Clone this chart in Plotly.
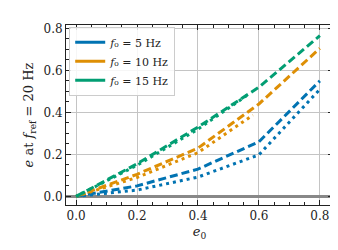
import plotly.graph_objects as go

# Data
e0_full = [0.0, 0.2, 0.4, 0.6, 0.8]

blue_dashed = [0.0, 0.05, 0.13, 0.26, 0.55]
blue_dotted = [0.0, 0.03, 0.092, 0.198, 0.51]

orange_dashed = [0.0, 0.105, 0.23, 0.44, 0.705]
orange_dotted_x = [0.0, 0.2, 0.4, 0.58]
orange_dotted = [0.0, 0.09, 0.208, 0.387]

green_dashed = [0.0, 0.155, 0.33, 0.52, 0.765]
green_dotted_x = [0.0, 0.2, 0.4, 0.56]
green_dotted = [0.0, 0.148, 0.32, 0.48]

labels = ["5", "10", "15"]
colors = ["#0173B2", "#DE8F05", "#029E73"]

x_ticks = [0.0, 0.2, 0.4, 0.6, 0.8]
x_ticktext = ["0.0", "0.2", "0.4", "0.6", "0.8"]
y_ticks = [0.0, 0.2, 0.4, 0.6, 0.8]
y_ticktext = ["0.0", "0.2", "0.4", "0.6", "0.8"]

FONT = "DejaVu Serif"
DASH = "8px,4px"
DOT = "3px,4px"
LW = 3

fig = go.Figure()

series = [
    (e0_full, blue_dashed, colors[0], DASH),
    (e0_full, blue_dotted, colors[0], DOT),
    (e0_full, orange_dashed, colors[1], DASH),
    (orange_dotted_x, orange_dotted, colors[1], DOT),
    (e0_full, green_dashed, colors[2], DASH),
    (green_dotted_x, green_dotted, colors[2], DOT),
]
for xs, ys, c, d in series:
    fig.add_trace(go.Scatter(x=xs, y=ys, mode="lines",
                             line=dict(color=c, width=LW, dash=d),
                             showlegend=False, hoverinfo="skip"))

# legend entries (solid samples)
for lab, c in zip(labels, colors):
    fig.add_trace(go.Scatter(x=[None], y=[None], mode="lines",
                             line=dict(color=c, width=LW),
                             name=f"<i>f</i>\u2080 = {lab} Hz"))

axis_common = dict(
    showline=True, linecolor="#222222", linewidth=1, mirror="allticks",
    ticks="inside", ticklen=5, tickwidth=1, tickcolor="#222222",
    showgrid=True, gridcolor="#c4c4c4", gridwidth=1,
    tickfont=dict(family=FONT, size=12, color="#222222"),
    minor=dict(ticks="inside", ticklen=3, tickwidth=1, tickcolor="#222222",
               dtick=0.05, showgrid=False),
    automargin=False,
)

fig.update_layout(
    width=338, height=250,
    margin=dict(l=58, r=13, t=17, b=53),
    paper_bgcolor="white", plot_bgcolor="white",
    font=dict(family=FONT, size=11, color="#222222"),
    xaxis=dict(range=[-0.033, 0.843], tickvals=x_ticks, ticktext=x_ticktext,
               zeroline=False,
               title=dict(text="<i>e</i><sub>0</sub>", font=dict(family=FONT, size=13),
                          standoff=4),
               **axis_common),
    yaxis=dict(range=[-0.041, 0.816], tickvals=y_ticks, ticktext=y_ticktext,
               zeroline=True, zerolinecolor="#888888", zerolinewidth=3,
               title=dict(text="<i>e</i> at <i>f</i><sub>ref</sub> = 20 Hz",
                          font=dict(family=FONT, size=13), standoff=6),
               **axis_common),
    legend=dict(x=0.012, y=0.99, xanchor="left", yanchor="top",
                bgcolor="rgba(255,255,255,0.85)", bordercolor="#cccccc", borderwidth=1,
                font=dict(family=FONT, size=11), tracegroupgap=0,
                itemwidth=30),
)

fig.write_html("out.html")
